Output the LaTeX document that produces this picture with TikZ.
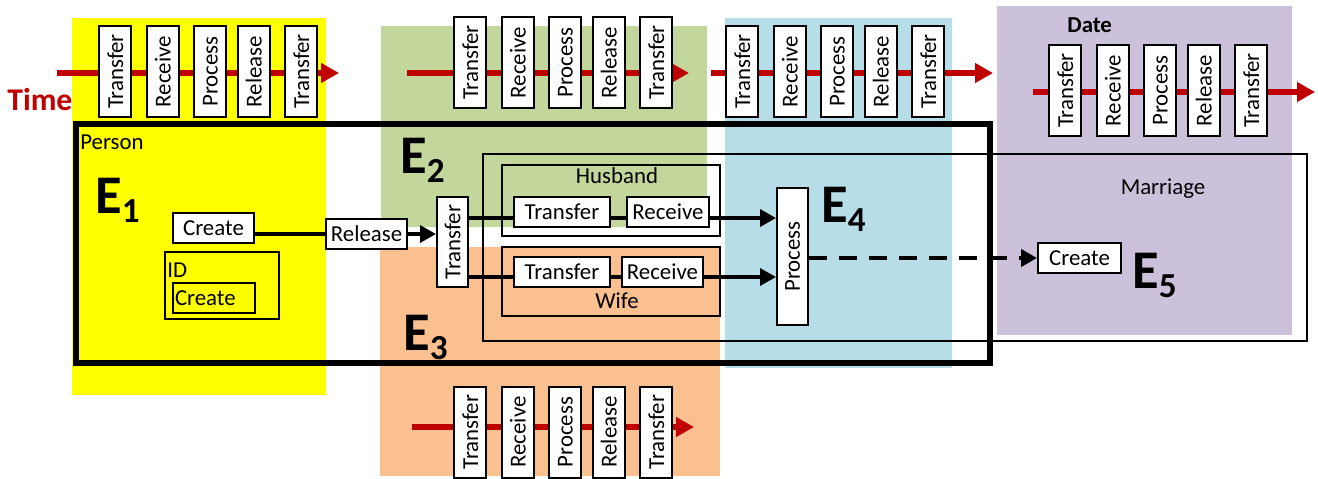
\documentclass[tikz,border=0pt]{standalone}
\usepackage{fontspec}
\setmainfont{Carlito}
\usetikzlibrary{positioning,arrows.meta}
\definecolor{timered}{HTML}{C00000}
\definecolor{eyellow}{HTML}{FFFF00}
\definecolor{egreen}{HTML}{C3D69B}
\definecolor{eorange}{HTML}{FAC090}
\definecolor{eblue}{HTML}{B7DEE8}
\definecolor{epurple}{HTML}{CCC1DA}
\newcommand{\evt}[1]{E\raisebox{-5.5pt}{\fontsize{20}{20}\selectfont #1}}

\begin{document}
\begin{tikzpicture}[x=0.02cm,y=-0.02cm,
			every node/.style={font=\fontsize{13}{15}\selectfont},
			box/.style={draw,fill=white,line width=0.04cm,minimum width=1.62cm,minimum height=0.6cm,inner sep=1pt},
			tbox/.style={box,rotate=90,minimum width=1.82cm,minimum height=0.64cm,inner sep=0pt},
			frame/.style={draw,line width=0.04cm},
			conn/.style={line width=0.07cm},
			arr/.style={conn,-{Triangle[length=0.32cm,width=0.34cm]}},
			timeline/.style={timered,line width=0.12cm,-{Triangle[length=0.36cm,width=0.38cm]}},
			elabel/.style={anchor=base west,inner sep=0pt,font=\fontsize{31}{31}\selectfont\bfseries}]
			\useasboundingbox (0,0) rectangle (1318,478);
			% event areas
			\fill[eyellow] (72,18) rectangle (326,395);
			\fill[egreen] (381,26) rectangle (707,227);
			\fill[eorange] (380,247) rectangle (720,476);
			\fill[eblue] (725,18) rectangle (952,368);
			\fill[epurple] (997,6) rectangle (1292,335);
			% time lines
			\foreach \n/\ax/\ay/\bx/\by in {1/57/73/98/71.5,2/407/73/453/62.5,3/711/73/725/71.5,4/1033/92/1048/90.5,5/412/427/453/432} {
				\coordinate (ts\n) at (\ax,\ay);
				\coordinate (te\n) at (\ax+282,\ay);
				\draw[timeline] (ts\n) -- (te\n);
				\matrix (tl\n) [anchor=west,inner sep=0pt,column sep=0.27cm,ampersand replacement=\&] at (\bx,\by) {
					\node (tl\n-1) [tbox] {Transfer}; \&
					\node (tl\n-2) [tbox] {Receive}; \&
					\node (tl\n-3) [tbox] {Process}; \&[-0.08cm]
					\node (tl\n-4) [tbox] {Release}; \&
					\node (tl\n-5) [tbox] {Transfer}; \\
				};
			}
			\node (time) [anchor=base west,inner sep=0pt,text=timered,font=\fontsize{18}{18}\selectfont\bfseries] at (7,110) {Time};
			\node (date) [anchor=base west,inner sep=0pt,font=\fontsize{13}{13}\selectfont\bfseries] at (1067,32) {Date};
			% frames
			\draw[line width=0.12cm] (75.5,124) rectangle (990,363);
			\draw[frame] (483,154) rectangle (1307,341);
			\draw[frame] (502,165) rectangle (720,236);
			\draw[frame] (502,247) rectangle (720,316);
			\draw[frame] (165,252) rectangle (279,319);
			\node (person) [anchor=base west,inner sep=0pt] at (80,149) {Person};
			\node (husband) [anchor=base,inner sep=0pt] at (617,183) {Husband};
			\node (wife) [anchor=base,inner sep=0pt] at (617,308) {Wife};
			\node (marriage) [anchor=base,inner sep=0pt] at (1163,194) {Marriage};
			\node (id) [anchor=base west,inner sep=0pt] at (167,277) {ID};
			% steps
			\node (c1) [box] at (213.5,228) {Create};
			\node (idc) [draw,line width=0.04cm,anchor=north west,text width=1.56cm,inner xsep=0.04cm,inner ysep=0pt,minimum height=0.6cm] at (172,282) {Create};
			\node (rel) [box] at (366.5,234) {Release};
			\node (tr) [box,rotate=90,minimum width=1.8cm,minimum height=0.62cm] at (452.5,242) {Transfer};
			\node (ht) [box,minimum width=1.92cm] at (562,211.5) {Transfer};
			\node (hr) [box,minimum width=1.64cm,right=0.3cm of ht] {Receive};
			\node (wt) [box,minimum width=1.92cm] at (562,272) {Transfer};
			\node (wr) [box,right=0.2cm of wt] {Receive};
			\node (pr) [box,rotate=90,minimum width=2.74cm,minimum height=0.62cm] at (792.5,256.5) {Process};
			\node (c5) [box,minimum width=1.66cm] at (1079.5,258) {Create};
			% connectors
			\coordinate (hline) at (0,218);
			\coordinate (wline) at (0,277);
			\draw[conn] (c1.east |- rel.west) -- (rel.west);
			\draw[arr] (rel.east) -- (tr.north |- rel.east);
			\draw[conn] (tr.south |- hline) -- (ht.west |- hline);
			\draw[conn] (ht.east |- hline) -- (hr.west |- hline);
			\draw[arr] (hr.east |- hline) -- (pr.north |- hline);
			\draw[conn] (tr.south |- wline) -- (wt.west |- wline);
			\draw[conn] (wt.east |- wline) -- (wr.west |- wline);
			\draw[arr] (wr.east |- wline) -- (pr.north |- wline);
			\draw[arr,line width=0.08cm,dash pattern=on 0.36cm off 0.24cm] (pr.south |- c5.west) -- (c5.west);
			% event labels
			\node (e1) [elabel] at (95,213) {\evt{1}};
			\node (e2) [elabel] at (400,173) {\evt{2}};
			\node (e3) [elabel] at (403,350) {\evt{3}};
			\node (e4) [elabel] at (821,222) {\evt{4}};
			\node (e5) [elabel] at (1132,288) {\evt{5}};
		\end{tikzpicture}
\end{document}
